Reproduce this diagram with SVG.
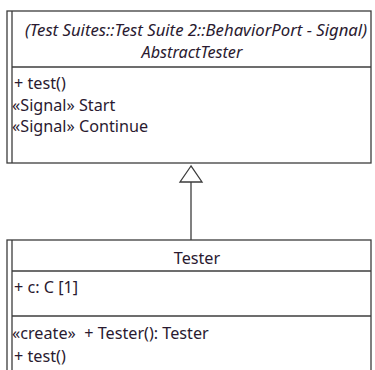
<svg xmlns="http://www.w3.org/2000/svg" width="375" height="370" viewBox="0 0 375 370">
<style>
.box{fill:#fff;stroke:#3c3c3c;stroke-width:1.3}
.ln{stroke:#3c3c3c;stroke-width:1.3;fill:none}
text{font-family:"Noto Sans","Open Sans",sans-serif;font-size:16.2px;fill:#2a1a30}
.it{font-style:italic}
</style>
<rect width="375" height="370" fill="#fff"/>
<g id="AbstractTester">
<rect class="box" x="7" y="11" width="364" height="152"/>
<line class="ln" x1="12" y1="11" x2="12" y2="163"/>
<line class="ln" x1="12" y1="67" x2="371" y2="67"/>
<text class="it" x="367" y="36" text-anchor="end" textLength="342" lengthAdjust="spacingAndGlyphs">(Test Suites::Test Suite 2::BehaviorPort - Signal)</text>
<text class="it" x="192" y="58" text-anchor="middle">AbstractTester</text>
<text x="14" y="89">+ test()</text>
<text x="12" y="111">«Signal» Start</text>
<text x="12" y="132">«Signal» Continue</text>
</g>
<g id="connectors">
<line class="ln" x1="191" y1="182" x2="191" y2="240"/>
<polygon points="191,166 180,182 202,182" fill="#fff" stroke="#3c3c3c" stroke-width="1.3"/>
</g>
<g id="Tester">
<rect class="box" x="7" y="240" width="364" height="140"/>
<line class="ln" x1="12" y1="240" x2="12" y2="370"/>
<line class="ln" x1="12" y1="271" x2="371" y2="271"/>
<line class="ln" x1="12" y1="316" x2="371" y2="316"/>
<text x="197" y="264" text-anchor="middle">Tester</text>
<text x="14" y="293">+ c: C [1]</text>
<text x="12" y="339" style="white-space:pre">«create»  + Tester(): Tester</text>
<text x="14" y="362">+ test()</text>
</g>
</svg>
